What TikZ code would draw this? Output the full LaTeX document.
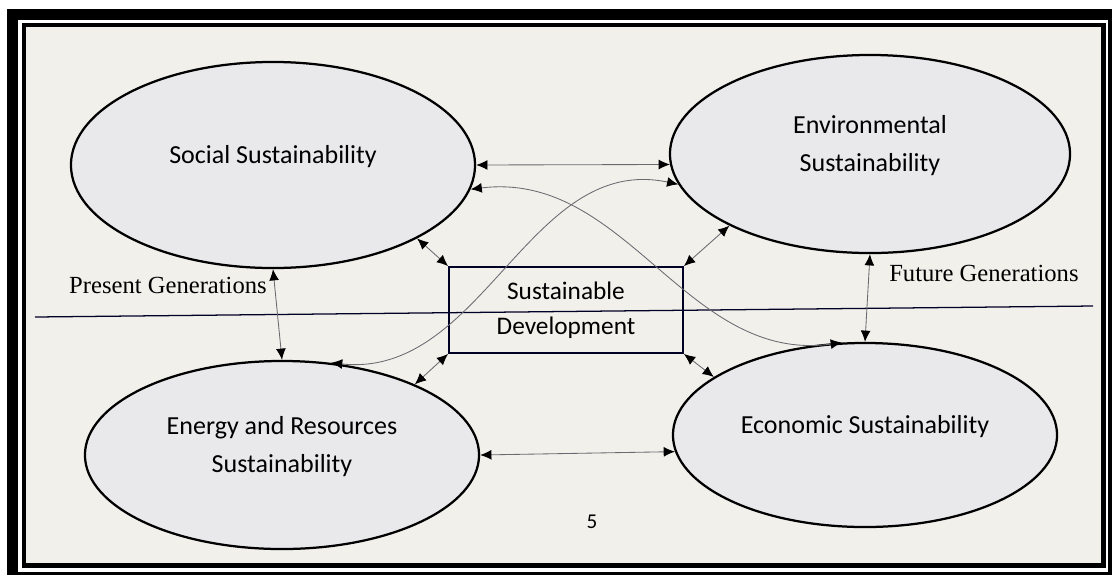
\documentclass[tikz,border=0pt]{standalone}
\usepackage{fontspec}
\setmainfont{Carlito}
\newfontfamily\genfont{Liberation Serif}
\usepackage{tikz}
\usetikzlibrary{positioning,arrows.meta,shapes.geometric}
\definecolor{paper}{RGB}{242,240,235}
\definecolor{ovalfill}{RGB}{233,233,236}
\definecolor{inkline}{RGB}{105,105,112}

\begin{document}
\begin{tikzpicture}[
    x=0.025cm, y=-0.025cm,
    pillar/.style={ellipse, draw, line width=1.6pt, fill=ovalfill, inner sep=0pt, align=center, text depth=15pt, font=\fontsize{18.5}{27}\selectfont},
    core/.style={draw=black!85!blue, line width=1.3pt, inner sep=0pt, align=center, minimum width=5.85cm, minimum height=2.15cm, font=\fontsize{18}{25}\selectfont},
    gen/.style={inner sep=0pt, font=\genfont\fontsize{17.5}{20}\selectfont},
    link/.style={{Latex[length=8pt,width=7pt,color=black]}-{Latex[length=8pt,width=7pt,color=black]}, draw=inkline, line width=0.6pt}
]
\useasboundingbox (0,0) rectangle (1112,575);
\fill[white] (0,0) rectangle (1112,575);
\fill[black] (7,9) rectangle (1112,575);
\fill[white] (18,20) rectangle (1108,572);
\fill[black] (22,23) rectangle (1106,568);
\fill[paper] (26,27) rectangle (1101,563);

\node[pillar, minimum width=10.1cm, minimum height=5.15cm] (social) at (273,165) {Social Sustainability};
\node[pillar, minimum width=10cm, minimum height=4.95cm] (env) at (870,154) {Environmental\\Sustainability};
\node[pillar, minimum width=9.85cm, minimum height=4.7cm] (energy) at (282,455) {Energy and Resources\\Sustainability};
\node[pillar, minimum width=9.6cm, minimum height=4.6cm] (econ) at (865,435) {Economic Sustainability};
\node[core] (sd) at (566,310) {Sustainable\\Development};

\coordinate (divl) at (35,317);
\coordinate (divr) at (1093,306);
\draw[line width=0.9pt, black!85!blue] (divl) -- (divr);

\node[gen, anchor=east] (present) at (267,285) {Present Generations};
\node[gen, anchor=west] (future) at (889,273) {Future Generations};
\node[font=\fontsize{15}{18}\selectfont] (page) at (592,522) {5};

\draw[link] (social.south) -- (energy.north);
\draw[link] (env.south) -- (econ.north);
\draw[link] (social.east) -- (env.183);
\draw[link] (energy.east) -- (econ.185);
\draw[link] (sd.north west) -- (social.-27);
\draw[link] (sd.north east) -- (env.-153);
\draw[link] (sd.south west) -- (energy.28);
\draw[link] (sd.south east) -- (econ.159);
\draw[link] (social.-7) to[out=7,in=188] (econ.104);
\draw[link] (energy.62) to[out=-6,in=168] (env.-171);
\end{tikzpicture}
\end{document}
